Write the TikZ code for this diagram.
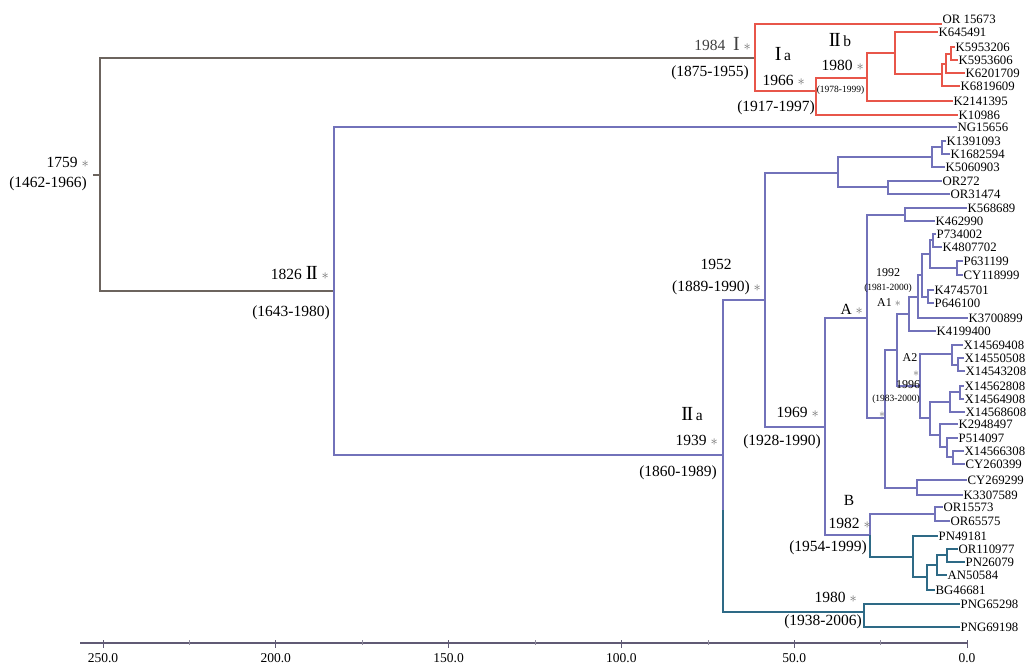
\documentclass[tikz,border=0pt]{standalone}
\usepackage{fontspec}
\setmainfont{Liberation Serif}
\usetikzlibrary{positioning}
\definecolor{treeGray}{RGB}{108,100,94}
\definecolor{treeRed}{RGB}{232,86,74}
\definecolor{treeBlue}{RGB}{114,114,186}
\definecolor{treeTeal}{RGB}{46,106,134}
\definecolor{axisGray}{RGB}{96,90,116}
\definecolor{starGray}{RGB}{110,110,110}
\newcommand{\st}{{\color{starGray}$\ast$}}
\newcommand{\rn}[1]{{\fontsize{20}{20}\selectfont #1}}
\newcommand{\rnII}{\rn{I\kern-0.07em I}}

\begin{document}
\begin{tikzpicture}[
    x=1pt, y=-1pt,
    gl/.style={line width=1.8pt, treeGray},
    rl/.style={line width=1.4pt, treeRed},
    bl/.style={line width=1.4pt, treeBlue},
    tl/.style={line width=1.4pt, treeTeal},
    leaf/.style={anchor=west, inner sep=0.5pt, font=\fontsize{12.8}{13}\selectfont},
    lab/.style={inner sep=1pt, font=\fontsize{15.5}{17}\selectfont},
    sml/.style={inner sep=0.5pt, font=\fontsize{9.5}{10}\selectfont},
    mid/.style={inner sep=0.5pt, font=\fontsize{12}{13}\selectfont},
    tick/.style={inner sep=1pt, font=\fontsize{13.5}{15}\selectfont}
  ]
    \useasboundingbox (0,0) rectangle (1026,667);
    \clip (0,0) rectangle (1026,667);

    % inner nodes
    \coordinate (stem) at (93,175);
    \coordinate (nR) at (100,175);
    \coordinate (nI) at (755,58);
    \coordinate (nIa) at (816,91);
    \coordinate (nIIb) at (867,78);
    \coordinate (nB4) at (895,53);
    \coordinate (nB3) at (942,74);
    \coordinate (nB2) at (946,64);
    \coordinate (nB1) at (951,54);
    \coordinate (nII) at (334,291);
    \coordinate (nIIa) at (723,455);
    \coordinate (tIIa) at (723,510);
    \coordinate (n1952) at (765,300);
    \coordinate (nT) at (838,173);
    \coordinate (nK) at (932,157);
    \coordinate (nK12) at (942,147);
    \coordinate (nOR) at (888,187);
    \coordinate (n1969) at (825,427);
    \coordinate (nA) at (867,318);
    \coordinate (nKK) at (905,215);
    \coordinate (nAbig) at (885,418);
    \coordinate (nG) at (897,350);
    \coordinate (nA1) at (909,314);
    \coordinate (nE) at (918,297);
    \coordinate (n1992) at (922,275);
    \coordinate (nC) at (930,254);
    \coordinate (nPK) at (933,240);
    \coordinate (nPC) at (957,268);
    \coordinate (nD) at (928,297);
    \coordinate (nA2) at (920,386);
    \coordinate (nX1) at (952,354);
    \coordinate (nX2) at (958,365);
    \coordinate (nP4) at (930,418);
    \coordinate (nX3) at (950,402);
    \coordinate (nX4) at (960,392);
    \coordinate (nP3) at (940,435);
    \coordinate (nP2) at (947,447);
    \coordinate (nP1) at (953,457);
    \coordinate (nCY) at (917,488);
    \coordinate (nBcl) at (870,535);
    \coordinate (nORB) at (935,514);
    \coordinate (nQ4) at (913,557);
    \coordinate (nQ3) at (927,577);
    \coordinate (nQ2) at (937,565);
    \coordinate (nQ1) at (947,555);
    \coordinate (nPNG) at (864,612);

    % leaves
    \node[leaf, anchor=south west] (OR15673) at (942,24) {OR 15673};
    \foreach \nm/\x/\y in {K645491/938/32, K5953206/955/47, K5953606/958/60,
        K6201709/965/73, K6819609/960/86, K2141395/953/101, K10986/958/115,
        NG15656/957/127, K1391093/946/141, K1682594/950/154, K5060903/945/167,
        OR272/942/181, OR31474/950/194, K568689/967/208, K462990/935/221,
        P734002/936/234, K4807702/942/247, P631199/963/261, CY118999/963/275,
        K4745701/934/290, P646100/934/303, K3700899/968/318, K4199400/936/331,
        X14569408/963/345, X14550508/964/358, X14543208/965/371,
        X14562808/964/386, X14564908/964/399, X14568608/965/412,
        K2948497/958/424, P514097/958/438, X14566308/964/451, CY260399/965/464,
        CY269299/967/480, K3307589/963/495, OR15573/943/507, OR65575/950/521,
        PN49181/938/536, OR110977/958/549, PN26079/965/562, AN50584/947/575,
        BG46681/935/590, PNG65298/960/604, PNG69198/960/627}
      \node[leaf] (\nm) at (\x,\y) {\nm};

    % root
    \draw[gl] (stem) -- (nR);
    \draw[gl] (nR) |- (nI);
    \draw[gl] (nR) |- (nII);

    % clade I
    \draw[rl] (nI) |- (OR15673.south west);
    \draw[rl] (nI) |- (nIa);
    \draw[rl] (nIa) |- (nIIb);
    \draw[rl] (nIa) |- (K10986.west);
    \draw[rl] (nIIb) |- (nB4);
    \draw[rl] (nIIb) |- (K2141395.west);
    \draw[rl] (nB4) |- (K645491.west);
    \draw[rl] (nB4) |- (nB3);
    \draw[rl] (nB3) |- (nB2);
    \draw[rl] (nB3) |- (K6819609.west);
    \draw[rl] (nB2) |- (nB1);
    \draw[rl] (nB2) |- (K6201709.west);
    \draw[rl] (nB1) |- (K5953206.west);
    \draw[rl] (nB1) |- (K5953606.west);

    % clade II
    \draw[bl] (nII) |- (NG15656.west);
    \draw[bl] (nII) |- (nIIa);
    \draw[bl] (nIIa) |- (n1952);
    \draw[bl] (nIIa) -- (tIIa);
    \draw[tl] (tIIa) |- (nPNG);
    \draw[tl] (nPNG) |- (PNG65298.west);
    \draw[tl] (nPNG) |- (PNG69198.west);
    \draw[bl] (n1952) |- (nT);
    \draw[bl] (n1952) |- (n1969);
    \draw[bl] (nT) |- (nK);
    \draw[bl] (nT) |- (nOR);
    \draw[bl] (nK) |- (nK12);
    \draw[bl] (nK) |- (K5060903.west);
    \draw[bl] (nK12) |- (K1391093.west);
    \draw[bl] (nK12) |- (K1682594.west);
    \draw[bl] (nOR) |- (OR272.west);
    \draw[bl] (nOR) |- (OR31474.west);
    \draw[bl] (n1969) |- (nA);
    \draw[bl] (n1969) |- (nBcl);
    \draw[bl] (nA) |- (nKK);
    \draw[bl] (nA) |- (nAbig);
    \draw[bl] (nKK) |- (K568689.west);
    \draw[bl] (nKK) |- (K462990.west);
    \draw[bl] (nAbig) |- (nG);
    \draw[bl] (nAbig) |- (nCY);
    \draw[bl] (nG) |- (nA1);
    \draw[bl] (nG) |- (nA2);
    \draw[bl] (nA1) |- (nE);
    \draw[bl] (nA1) |- (K4199400.west);
    \draw[bl] (nE) |- (n1992);
    \draw[bl] (nE) |- (K3700899.west);
    \draw[bl] (n1992) |- (nC);
    \draw[bl] (n1992) |- (nD);
    \draw[bl] (nC) |- (nPK);
    \draw[bl] (nC) |- (nPC);
    \draw[bl] (nPK) |- (P734002.west);
    \draw[bl] (nPK) |- (K4807702.west);
    \draw[bl] (nPC) |- (P631199.west);
    \draw[bl] (nPC) |- (CY118999.west);
    \draw[bl] (nD) |- (K4745701.west);
    \draw[bl] (nD) |- (P646100.west);
    \draw[bl] (nA2) |- (nX1);
    \draw[bl] (nA2) |- (nP4);
    \draw[bl] (nX1) |- (X14569408.west);
    \draw[bl] (nX1) |- (nX2);
    \draw[bl] (nX2) |- (X14550508.west);
    \draw[bl] (nX2) |- (X14543208.west);
    \draw[bl] (nP4) |- (nX3);
    \draw[bl] (nP4) |- (nP3);
    \draw[bl] (nX3) |- (nX4);
    \draw[bl] (nX3) |- (X14568608.west);
    \draw[bl] (nX4) |- (X14562808.west);
    \draw[bl] (nX4) |- (X14564908.west);
    \draw[bl] (nP3) |- (K2948497.west);
    \draw[bl] (nP3) |- (nP2);
    \draw[bl] (nP2) |- (P514097.west);
    \draw[bl] (nP2) |- (nP1);
    \draw[bl] (nP1) |- (X14566308.west);
    \draw[bl] (nP1) |- (CY260399.west);
    \draw[bl] (nCY) |- (CY269299.west);
    \draw[bl] (nCY) |- (K3307589.west);
    \draw[bl] (nBcl) |- (nORB);
    \draw[tl] (nBcl) |- (nQ4);
    \draw[bl] (nORB) |- (OR15573.west);
    \draw[bl] (nORB) |- (OR65575.west);
    \draw[tl] (nQ4) |- (PN49181.west);
    \draw[tl] (nQ4) |- (nQ3);
    \draw[tl] (nQ3) |- (nQ2);
    \draw[tl] (nQ3) |- (BG46681.west);
    \draw[tl] (nQ2) |- (nQ1);
    \draw[tl] (nQ2) |- (AN50584.west);
    \draw[tl] (nQ1) |- (OR110977.west);
    \draw[tl] (nQ1) |- (PN26079.west);

    % node labels
    \node[lab, anchor=east] (l1759) at (90,162) {1759 \st};
    \node[lab, anchor=east] (r1759) at (88,184) {(1462-1966)};
    \node[lab, anchor=east] (l1826) at (330,273) {1826 \rnII\ \st};
    \node[lab, anchor=east] (r1826) at (331,313) {(1643-1980)};
    \node[lab, anchor=east, text=darkgray] (l1984) at (752,44) {1984 \ \rn{I} \st};
    \node[lab, anchor=east] (r1984) at (750,73) {(1875-1955)};
    \node[lab] (lIa) at (783,54) {\rn{I}\,a};
    \node[lab] (lIIb) at (840,40) {\rnII\,b};
    \node[lab, anchor=east] (l1966) at (806,80) {1966 \st};
    \node[lab, anchor=east] (r1966) at (816,108) {(1917-1997)};
    \node[lab, anchor=east] (l1980a) at (865,65) {1980 \st};
    \node[sml, anchor=east] (r1980a) at (865,90) {(1978-1999)};
    \node[lab] (l1952) at (716,264) {1952};
    \node[lab, anchor=east] (r1952) at (762,288) {(1889-1990) \st};
    \node[lab] (lIIa) at (692,414) {\rnII\,a};
    \node[lab, anchor=east] (l1939) at (719,440) {1939 \st};
    \node[lab, anchor=east] (r1939) at (718,473) {(1860-1989)};
    \node[lab, anchor=east] (l1969) at (820,412) {1969 \st};
    \node[lab, anchor=east] (r1969) at (822,442) {(1928-1990)};
    \node[lab, anchor=east] (lA) at (864,309) {A \st};
    \node[mid] (l1992) at (888,273) {1992};
    \node[sml] (r1992) at (888,288) {(1981-2000)};
    \node[mid] (lA1) at (889,303) {A1 \st};
    \node[mid] (lA2) at (910,358) {A2};
    \node[mid, inner sep=0pt] (sA2) at (916,374) {\st};
    \node[mid] (l1996) at (908,385) {1996};
    \node[sml] (r1996) at (896,399) {(1983-2000)};
    \node[mid] (sAbig) at (882,415) {\st};
    \node[lab] (lB) at (849,500) {B};
    \node[lab, anchor=east] (l1982) at (872,523) {1982 \st};
    \node[lab, anchor=east] (r1982) at (868,548) {(1954-1999)};
    \node[lab, anchor=east] (l1980b) at (858,597) {1980 \st};
    \node[lab, anchor=east] (r1980b) at (863,622) {(1938-2006)};

    % time axis
    \draw[line width=1.6pt, axisGray] (80,643) -- (967,643);
    \foreach \v in {0,50,100,150,200,250} {
      \draw[line width=0.8pt, axisGray] ({967-\v*3.456},640) -- ({967-\v*3.456},648);
      \node[tick] (t\v) at ({967-\v*3.456},658) {\v.0};
    }
    \foreach \v in {25,75,125,175,225}
      \draw[line width=0.6pt, axisGray!70] ({967-\v*3.456},640) -- ({967-\v*3.456},645);
  \end{tikzpicture}
\end{document}
